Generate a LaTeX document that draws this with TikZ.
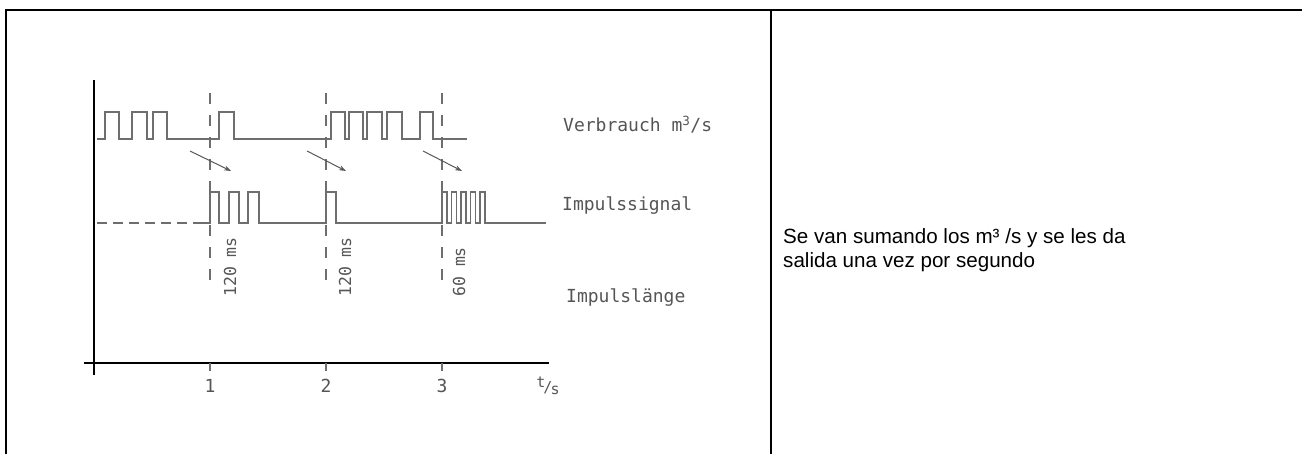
\documentclass[tikz,border=0pt]{standalone}
\usepackage{fontspec}
\setmainfont{Liberation Sans}
\newfontfamily\plotfont{DejaVu Sans Mono}
\usetikzlibrary{arrows.meta,positioning}

\definecolor{sig}{HTML}{6E6E6E}
\definecolor{lab}{HTML}{555555}

\begin{document}
\begin{tikzpicture}[x=1pt,y=-1pt,
    signal/.style={draw=sig,line width=1.3pt},
    guide/.style={draw=sig,line width=1.2pt,dash pattern=on 11pt off 11pt},
    plotlab/.style={text=lab,font=\plotfont\fontsize{18}{20}\selectfont,inner sep=0pt},
    mslab/.style={plotlab,font=\plotfont\fontsize{16.5}{18}\selectfont,rotate=90,anchor=west},
    frame/.style={line width=2.5pt}]

      \useasboundingbox (0,0) rectangle (1302,454);

      % frame
      \draw[frame] (6,470) -- (6,10) -- (1320,10);
      \draw[frame] (771,10) -- (771,470);

      % axes
      \draw[line width=2.2pt] (94,80) -- (94,375);
      \draw[line width=2.2pt] (84,363) -- (549,363);
      \node[plotlab,font=\plotfont\fontsize{15}{16}\selectfont] (tunit) at (548,386)
        {\raisebox{5pt}{t}\kern-2pt/\kern-2pt\raisebox{-2pt}{s}};

      % x-axis ticks
      \foreach \x/\n in {210/1,326/2,442/3}
      {
        \draw[sig,line width=1.2pt] (\x,363) -- (\x,371);
        \node[plotlab] (tick\n) at (\x,386) {\n};
      }

      % second marks
      \foreach \x in {210,326,442}
        \draw[guide] (\x,93) -- (\x,288);

      % Verbrauch
      \draw[signal] (97,139)
        foreach \a/\b in {105/119,132/147,153/167,219/234,331/345,
                          349/363,367/382,387/402,420/433}
        { -- (\a,139) -- (\a,112) -- (\b,112) -- (\b,139) } -- (467,139);

      % Impulssignal
      \draw[signal,dash pattern=on 10pt off 6pt] (97,223) -- (197,223);
      \draw[signal] (197,223)
        foreach \a/\b in {210/219,229/239,248/259,326/336}
        { -- (\a,223) -- (\a,192) -- (\b,192) -- (\b,223) }
        foreach \k in {0,...,4}
        { -- ({442+9.5*\k},223) -- ({442+9.5*\k},192)
          -- ({447+9.5*\k},192) -- ({447+9.5*\k},223) } -- (546,223);

      % arrows
      \foreach \i/\xs/\xe in {1/190/231,2/307/346,3/423/462}
      {
        \coordinate (from\i) at (\xs,151);
        \coordinate (to\i) at (\xe,171);
        \draw[line width=1pt,sig!80!black,-{Stealth[length=7pt,width=5pt]}] (from\i) -- (to\i);
      }

      % Impulslaenge
      \node[mslab] (ms1) at (230,297) {120 ms};
      \node[mslab] (ms2) at (345,297) {120 ms};
      \node[mslab] (ms3) at (459,297) {60 ms};

      % labels
      \node[plotlab,anchor=west] (verbrauch) at (563,125) {Verbrauch m\textsuperscript{3}/s};
      \node[plotlab,anchor=west] (impuls) at (562,206) {Impulssignal};
      \node[plotlab,anchor=west] (laenge) at (566,298) {Impulslänge};

      % note
      \node[anchor=west,align=left,inner sep=0pt,
        font=\fontsize{20.6}{23.7}\selectfont] (note) at (783,250)
        {Se van sumando los m³ /s y se les da\\salida una vez por segundo};

    \end{tikzpicture}
\end{document}
